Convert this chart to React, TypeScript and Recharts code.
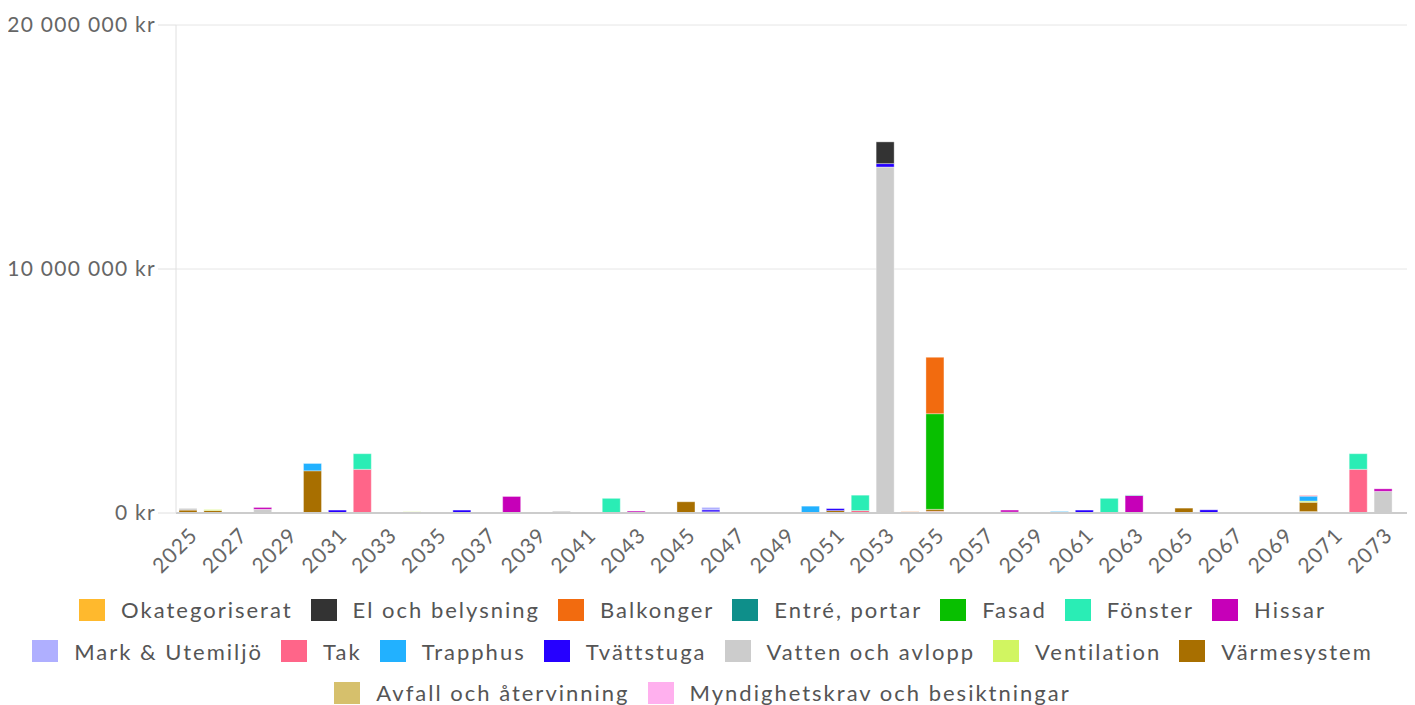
import React from "react";
import { BarChart, Bar, XAxis, YAxis, CartesianGrid, Legend } from "recharts";

const years: number[] = [
  2025, 2026, 2027, 2028, 2029, 2030, 2031, 2032, 2033, 2034, 2035, 2036, 2037, 2038, 2039, 2040, 2041,
  2042, 2043, 2044, 2045, 2046, 2047, 2048, 2049, 2050, 2051, 2052, 2053, 2054, 2055, 2056, 2057, 2058,
  2059, 2060, 2061, 2062, 2063, 2064, 2065, 2066, 2067, 2068, 2069, 2070, 2071, 2072, 2073,
];

const yTicks = [0, 10000000, 20000000];

// Values in kr per year (sparse: missing years are 0)
const okategoriserat: Record<number, number> = {};
const elOchBelysning: Record<number, number> = { 2053: 890000 };
const balkonger: Record<number, number> = { 2054: 50000, 2055: 2310000 };
const entrePortar: Record<number, number> = { 2056: 30000 };
const fasad: Record<number, number> = { 2055: 3920000 };
const fonster: Record<number, number> = { 2032: 640000, 2042: 600000, 2052: 630000, 2062: 600000, 2063: 20000, 2072: 640000 };
const hissar: Record<number, number> = { 2028: 80000, 2038: 680000, 2043: 50000, 2058: 80000, 2063: 700000, 2073: 100000 };
const markUtemiljo: Record<number, number> = { 2033: 30000, 2046: 100000, 2048: 30000, 2063: 20000 };
const tak: Record<number, number> = { 2032: 1790000, 2052: 100000, 2070: 30000, 2072: 1790000 };
const trapphus: Record<number, number> = { 2030: 300000, 2050: 280000, 2060: 60000, 2070: 200000 };
const tvattstuga: Record<number, number> = { 2031: 120000, 2036: 120000, 2043: 30000, 2046: 80000, 2051: 80000, 2053: 140000, 2061: 120000, 2066: 130000 };
const vattenOchAvlopp: Record<number, number> = { 2025: 70000, 2028: 150000, 2035: 20000, 2040: 40000, 2053: 14180000, 2073: 870000 };
const ventilation: Record<number, number> = { 2026: 40000, 2034: 50000, 2058: 40000, 2070: 50000 };
const varmesystem: Record<number, number> = { 2025: 120000, 2026: 100000, 2030: 1730000, 2045: 460000, 2051: 100000, 2055: 80000, 2065: 200000, 2070: 380000 };
const avfall: Record<number, number> = { 2046: 50000, 2064: 20000, 2070: 60000 };
const myndighetskrav: Record<number, number> = { 2040: 40000, 2041: 20000, 2055: 70000, 2071: 20000, 2073: 20000 };

const series = [
  { key: "okat", name: "Okategoriserat", color: "#FFB92D", values: okategoriserat },
  { key: "el", name: "El och belysning", color: "#333333", values: elOchBelysning },
  { key: "balk", name: "Balkonger", color: "#F26B0F", values: balkonger },
  { key: "entre", name: "Entré, portar", color: "#0E8F8A", values: entrePortar },
  { key: "fasad", name: "Fasad", color: "#08BF00", values: fasad },
  { key: "fonster", name: "Fönster", color: "#2AEDB5", values: fonster },
  { key: "hissar", name: "Hissar", color: "#C600B8", values: hissar },
  { key: "mark", name: "Mark & Utemiljö", color: "#AFAFFF", values: markUtemiljo },
  { key: "tak", name: "Tak", color: "#FF6589", values: tak },
  { key: "trapp", name: "Trapphus", color: "#22B1FF", values: trapphus },
  { key: "tvatt", name: "Tvättstuga", color: "#2600FF", values: tvattstuga },
  { key: "vatten", name: "Vatten och avlopp", color: "#CCCCCC", values: vattenOchAvlopp },
  { key: "vent", name: "Ventilation", color: "#D1F561", values: ventilation },
  { key: "varme", name: "Värmesystem", color: "#A86F00", values: varmesystem },
  { key: "avfall", name: "Avfall och återvinning", color: "#D6C06C", values: avfall },
  { key: "mynd", name: "Myndighetskrav och besiktningar", color: "#FFB0EE", values: myndighetskrav },
];

const legendRows = [7, 7, 2];

const data = years.map((y) => {
  const row: Record<string, number | string> = { year: String(y) };
  series.forEach((s) => {
    row[s.key] = s.values[y] ?? 0;
  });
  return row;
});

const FONT = "Lato, 'Open Sans', sans-serif";

const formatKr = (v: number) => `${String(v).replace(/\B(?=(\d{3})+(?!\d))/g, " ")} kr`;

const LegendContent = () => {
  let idx = 0;
  return (
    <div style={{ fontFamily: FONT, fontSize: 22, color: "#555", letterSpacing: 2 }}>
      {legendRows.map((n, r) => {
        const items = series.slice(idx, idx + n);
        idx += n;
        return (
          <div key={r} style={{ display: "flex", justifyContent: "center", alignItems: "center", height: 41.5, whiteSpace: "nowrap" }}>
            {items.map((s) => (
              <div key={s.key} style={{ display: "flex", alignItems: "center", marginRight: 18 }}>
                <span style={{ display: "inline-block", width: 26, height: 22, background: s.color, marginRight: 16 }} />
                <span>{s.name}</span>
              </div>
            ))}
          </div>
        );
      })}
    </div>
  );
};

export default function App() {
  const stackOrder = [...series].reverse();
  return (
    <div style={{ width: 1407, height: 697, overflow: "hidden" }}>
      <BarChart width={1407} height={697} data={data} margin={{ top: 17, right: 0, bottom: 0, left: 0 }}>
        <CartesianGrid vertical={false} stroke="#e6e6e6" />
        <XAxis
          dataKey="year"
          interval={1}
          tickLine={false}
          axisLine={{ stroke: "#cccccc", strokeWidth: 2 }}
          angle={-45}
          textAnchor="end"
          height={84}
          tickMargin={7}
          padding={{ left: 0, right: 19 }}
          tick={{ fill: "#666", fontSize: 21, fontFamily: FONT, letterSpacing: 1.2 }}
        />
        <YAxis
          domain={[0, 20000000]}
          ticks={yTicks}
          width={168}
          tickSize={18}
          tickFormatter={formatKr}
          axisLine={{ stroke: "#e0e0e0" }}
          tickLine={{ stroke: "#e0e0e0" }}
          tick={{ fill: "#666", fontSize: 21, fontFamily: FONT, letterSpacing: 1.3 }}
        />
        <Legend
          verticalAlign="bottom"
          height={108}
          wrapperStyle={{ top: 581, left: 0, width: 1407 }}
          content={<LegendContent />}
        />
        {stackOrder.map((s) => (
          <Bar
            key={s.key}
            dataKey={s.key}
            name={s.name}
            stackId="a"
            fill={s.color}
            barSize={18}
            stroke="rgba(255,255,255,0.35)"
            strokeWidth={1}
            isAnimationActive={false}
          />
        ))}
      </BarChart>
    </div>
  );
}
